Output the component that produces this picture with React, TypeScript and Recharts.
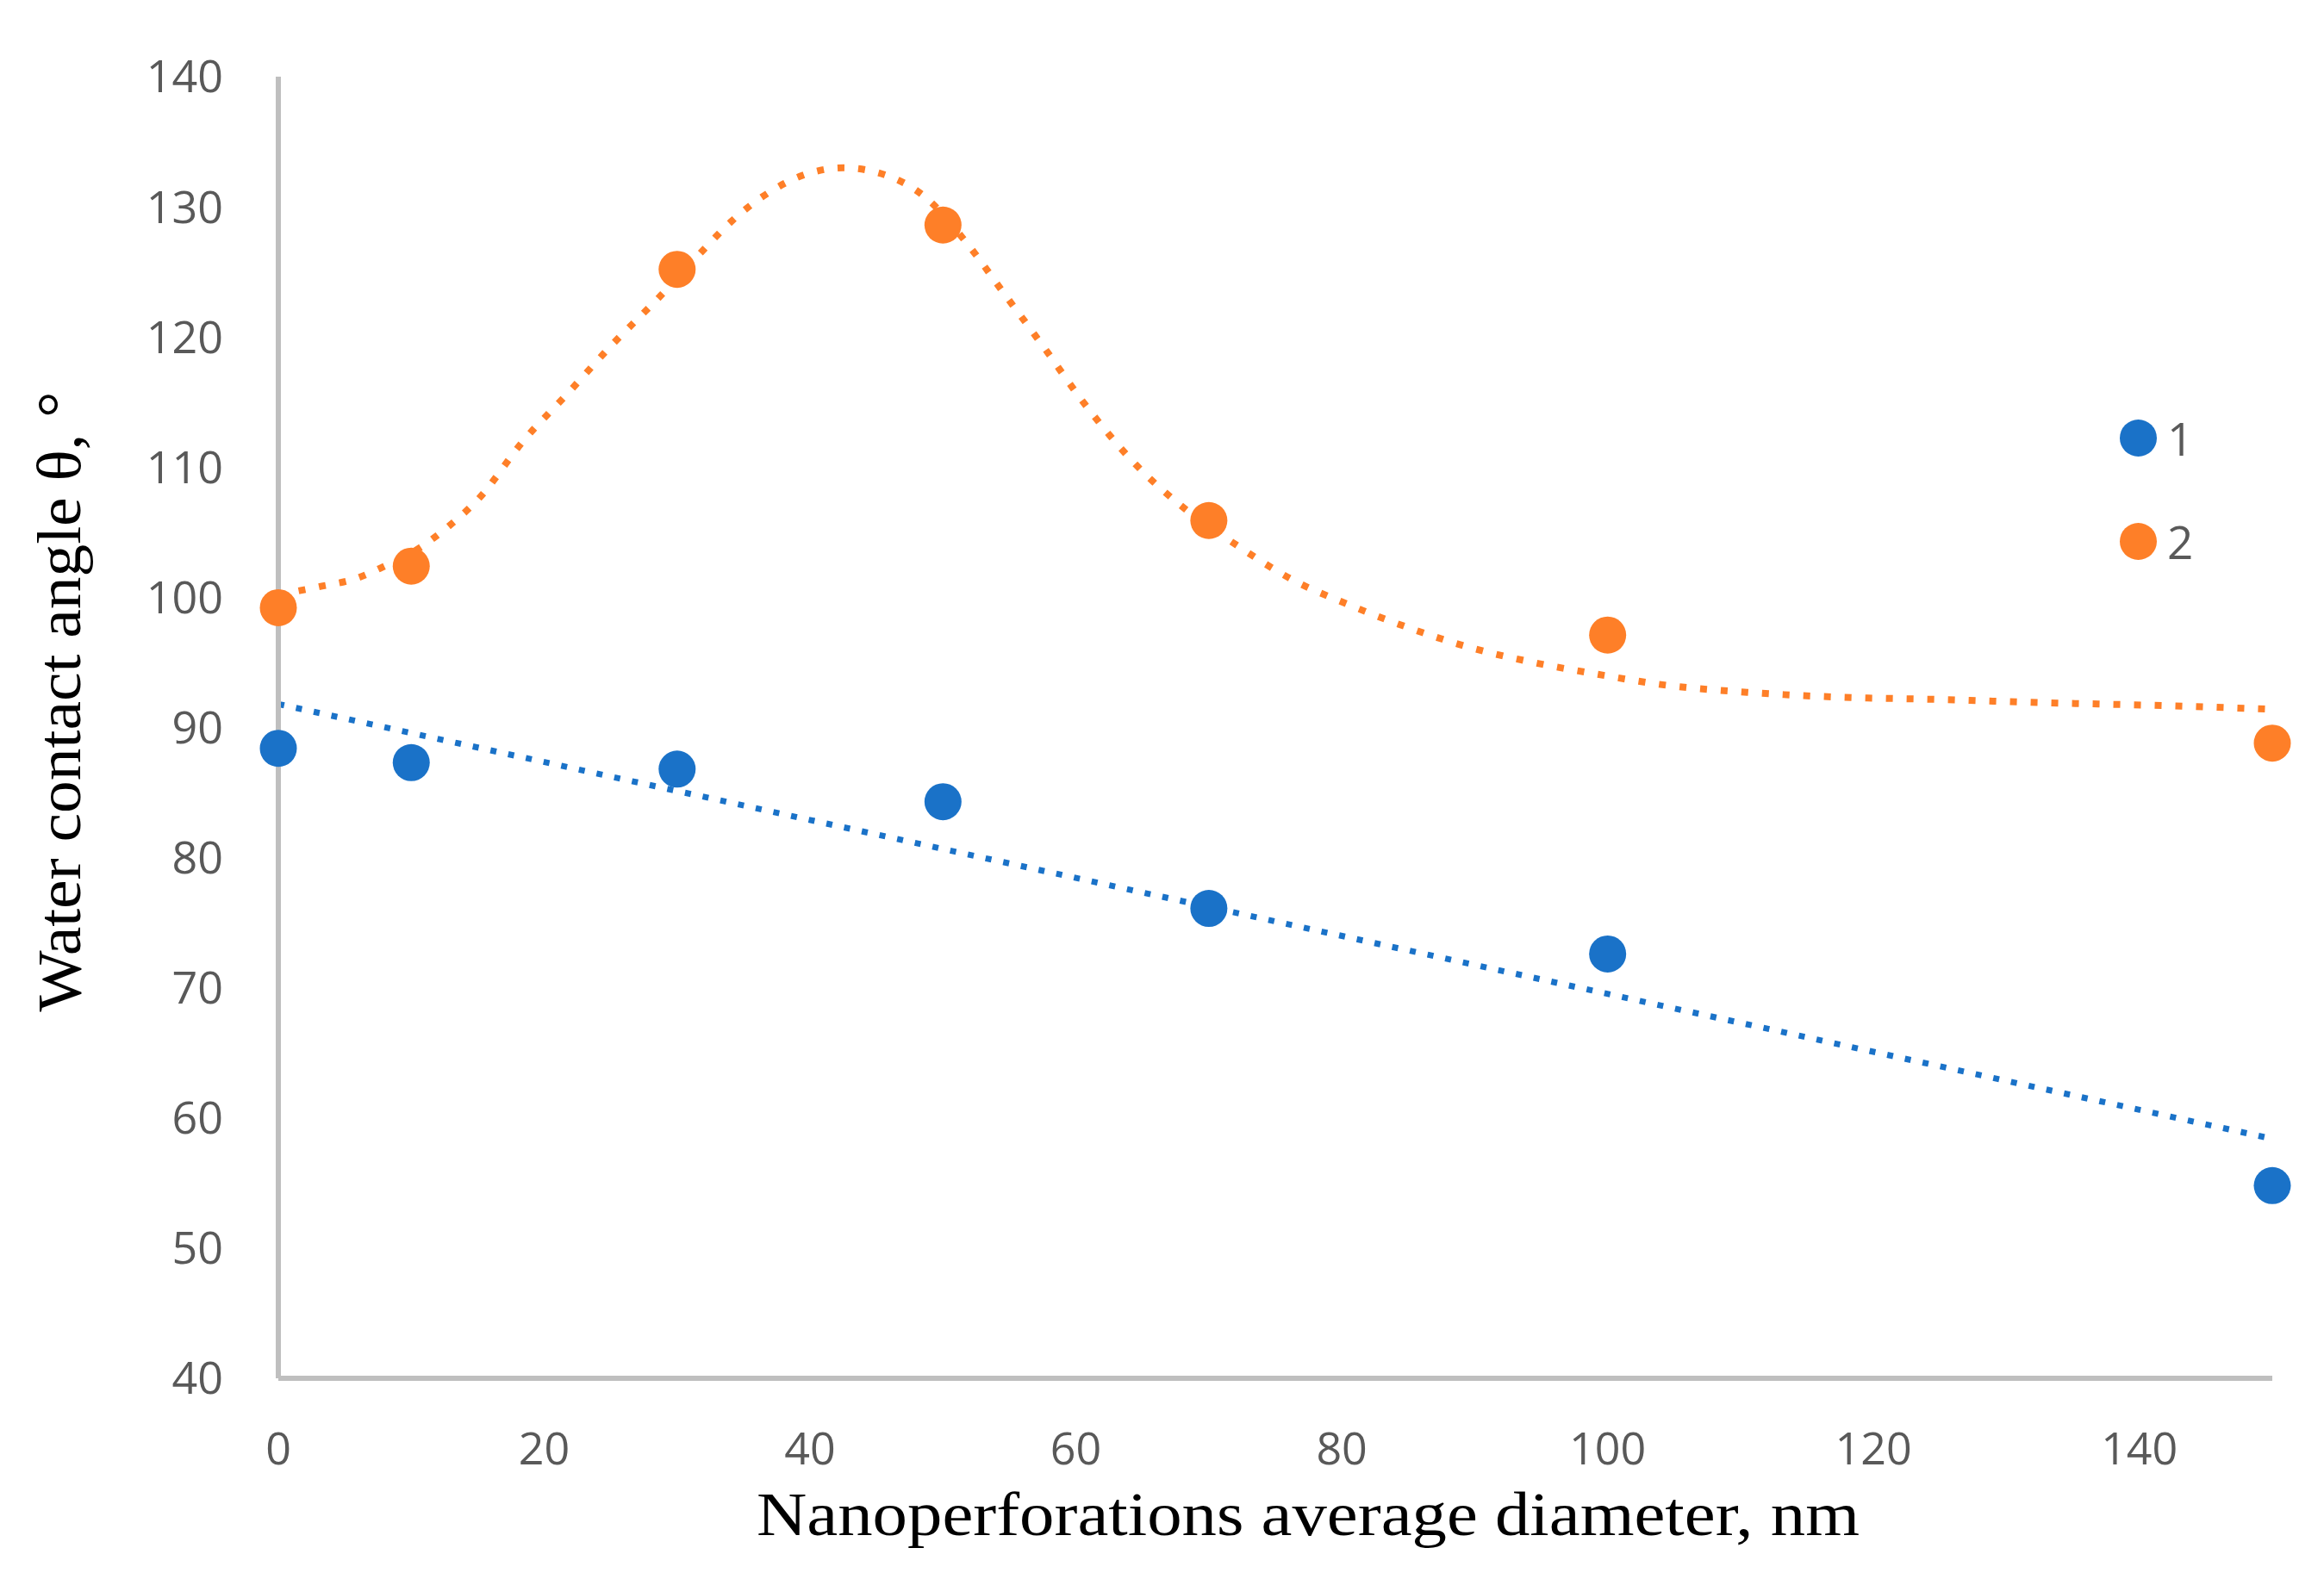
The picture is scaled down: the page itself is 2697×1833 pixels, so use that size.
import React from 'react';
import { ComposedChart, Scatter, Line, XAxis, YAxis, Legend } from 'recharts';

// measured diameters, nm
const DIAMETERS = [0, 10, 30, 50, 70, 100, 150];
// water contact angle, degrees
const SERIES_1 = [88.4, 87.3, 86.8, 84.3, 76.1, 72.6, 54.8];
const SERIES_2 = [99.2, 102.4, 125.2, 128.6, 105.9, 97.1, 88.8];

// trend lines
const TREND_1_X = [0, 150];
const TREND_1_Y = [91.8, 58.4];
const TREND_2_X = [
  0, 3, 6, 8, 10, 12.5, 15, 18.5, 21.8, 25.1, 28.5, 31.8, 34.1, 36.6, 39.4, 42.5, 45.8, 48.6,
  51.8, 54.7, 57.6, 60.4, 64.5, 68.2, 72.1, 76.2, 80.6, 85.2, 89.8, 94.4, 99.2, 104, 110.5,
  116.9, 125, 133, 141.1, 150,
];
const TREND_2_Y = [
  100.2, 100.8, 101.5, 102.4, 103.4, 105.2, 107.5, 112.1, 115.7, 119.4, 122.9, 126.5, 128.9,
  130.9, 132.4, 133.0, 132.4, 130.8, 127.2, 123.2, 119.2, 115.2, 110.2, 106.8, 104.0, 101.4,
  99.4, 97.6, 96.1, 95.0, 94.1, 93.3, 92.7, 92.35, 92.15, 91.9, 91.7, 91.4,
];

const X_TICKS = [0, 20, 40, 60, 80, 100, 120, 140];
const Y_TICKS = [40, 50, 60, 70, 80, 90, 100, 110, 120, 130, 140];

const X_LABEL = 'Nanoperforations average diameter, nm';
const Y_LABEL = 'Water contact angle θ, °';

const BLUE = '#1a72c8';
const ORANGE = '#fe7f28';
const AXIS = '#bfbfbf';
const TICK = '#595959';
const TICK_FONT = 'Open Sans';
const LABEL_FONT = 'Liberation Serif';

const zip = (xs: number[], ys: number[]) => xs.map((x, i) => ({ x, y: ys[i] }));

const points1 = zip(DIAMETERS, SERIES_1);
const points2 = zip(DIAMETERS, SERIES_2);
const trend1 = zip(TREND_1_X, TREND_1_Y);
const trend2 = zip(TREND_2_X, TREND_2_Y);

const dot = (color: string) => (props: any) => (
  <circle cx={props.cx} cy={props.cy} r={21.5} fill={color} />
);

const XLabel = ({ viewBox }: any) => (
  <text
    x={viewBox.x + viewBox.width / 2 + 38}
    y={viewBox.y + 182}
    textAnchor="middle"
    fontFamily={LABEL_FONT}
    fontSize={72}
    textLength={1280}
    lengthAdjust="spacingAndGlyphs"
    fill="#000"
  >
    {X_LABEL}
  </text>
);

const YLabel = ({ viewBox }: any) => {
  const x = viewBox.x + 93;
  const y = viewBox.y + viewBox.height / 2 - 30;
  return (
    <text
      x={x}
      y={y}
      transform={`rotate(-90, ${x}, ${y})`}
      textAnchor="middle"
      fontFamily={LABEL_FONT}
      fontSize={72}
      textLength={720}
      lengthAdjust="spacingAndGlyphs"
      fill="#000"
    >
      {Y_LABEL}
    </text>
  );
};

const renderLegend = ({ payload }: any) => (
  <div style={{ fontFamily: TICK_FONT, fontSize: 53, color: TICK }}>
    {(payload || [])
      .filter((p: any) => p.type !== 'none')
      .map((p: any) => (
        <div key={p.value} style={{ display: 'flex', alignItems: 'center', height: 120 }}>
          <span
            style={{
              display: 'inline-block',
              width: 43,
              height: 43,
              borderRadius: '50%',
              background: p.color,
              marginRight: 12,
            }}
          />
          <span style={{ lineHeight: 1 }}>{p.value}</span>
        </div>
      ))}
  </div>
);

export default function App() {
  return (
    <div style={{ position: 'absolute', left: 0, top: 0, background: '#fff' }}>
      <ComposedChart
        width={2697}
        height={1833}
        margin={{ top: 89, right: 60, bottom: 0, left: 0 }}
      >
        <XAxis
          type="number"
          dataKey="x"
          domain={[0, 150]}
          ticks={X_TICKS}
          height={233}
          axisLine={{ stroke: AXIS, strokeWidth: 6 }}
          tickLine={false}
          tickSize={0}
          tickMargin={63}
          tick={{ fill: TICK, fontSize: 52, fontFamily: TICK_FONT }}
          label={<XLabel />}
        />
        <YAxis
          type="number"
          domain={[40, 140]}
          ticks={Y_TICKS}
          width={323}
          axisLine={{ stroke: AXIS, strokeWidth: 6 }}
          tickLine={false}
          tickSize={0}
          tickMargin={64}
          tick={{ fill: TICK, fontSize: 52, fontFamily: TICK_FONT }}
          label={<YLabel />}
        />
        <Legend
          layout="vertical"
          align="center"
          verticalAlign="middle"
          content={renderLegend}
          wrapperStyle={{ left: 2460, top: 448, width: 200, height: 240 }}
        />
        <Scatter name="1" data={points1} dataKey="y" fill={BLUE} shape={dot(BLUE)} isAnimationActive={false} />
        <Scatter name="2" data={points2} dataKey="y" fill={ORANGE} shape={dot(ORANGE)} isAnimationActive={false} />
        <Line
          data={trend1}
          dataKey="y"
          type="linear"
          stroke={BLUE}
          strokeWidth={7}
          strokeDasharray="7 14"
          dot={false}
          activeDot={false}
          legendType="none"
          isAnimationActive={false}
        />
        <Line
          data={trend2}
          dataKey="y"
          type="monotone"
          stroke={ORANGE}
          strokeWidth={8}
          strokeDasharray="8 16"
          dot={false}
          activeDot={false}
          legendType="none"
          isAnimationActive={false}
        />
      </ComposedChart>
    </div>
  );
}
